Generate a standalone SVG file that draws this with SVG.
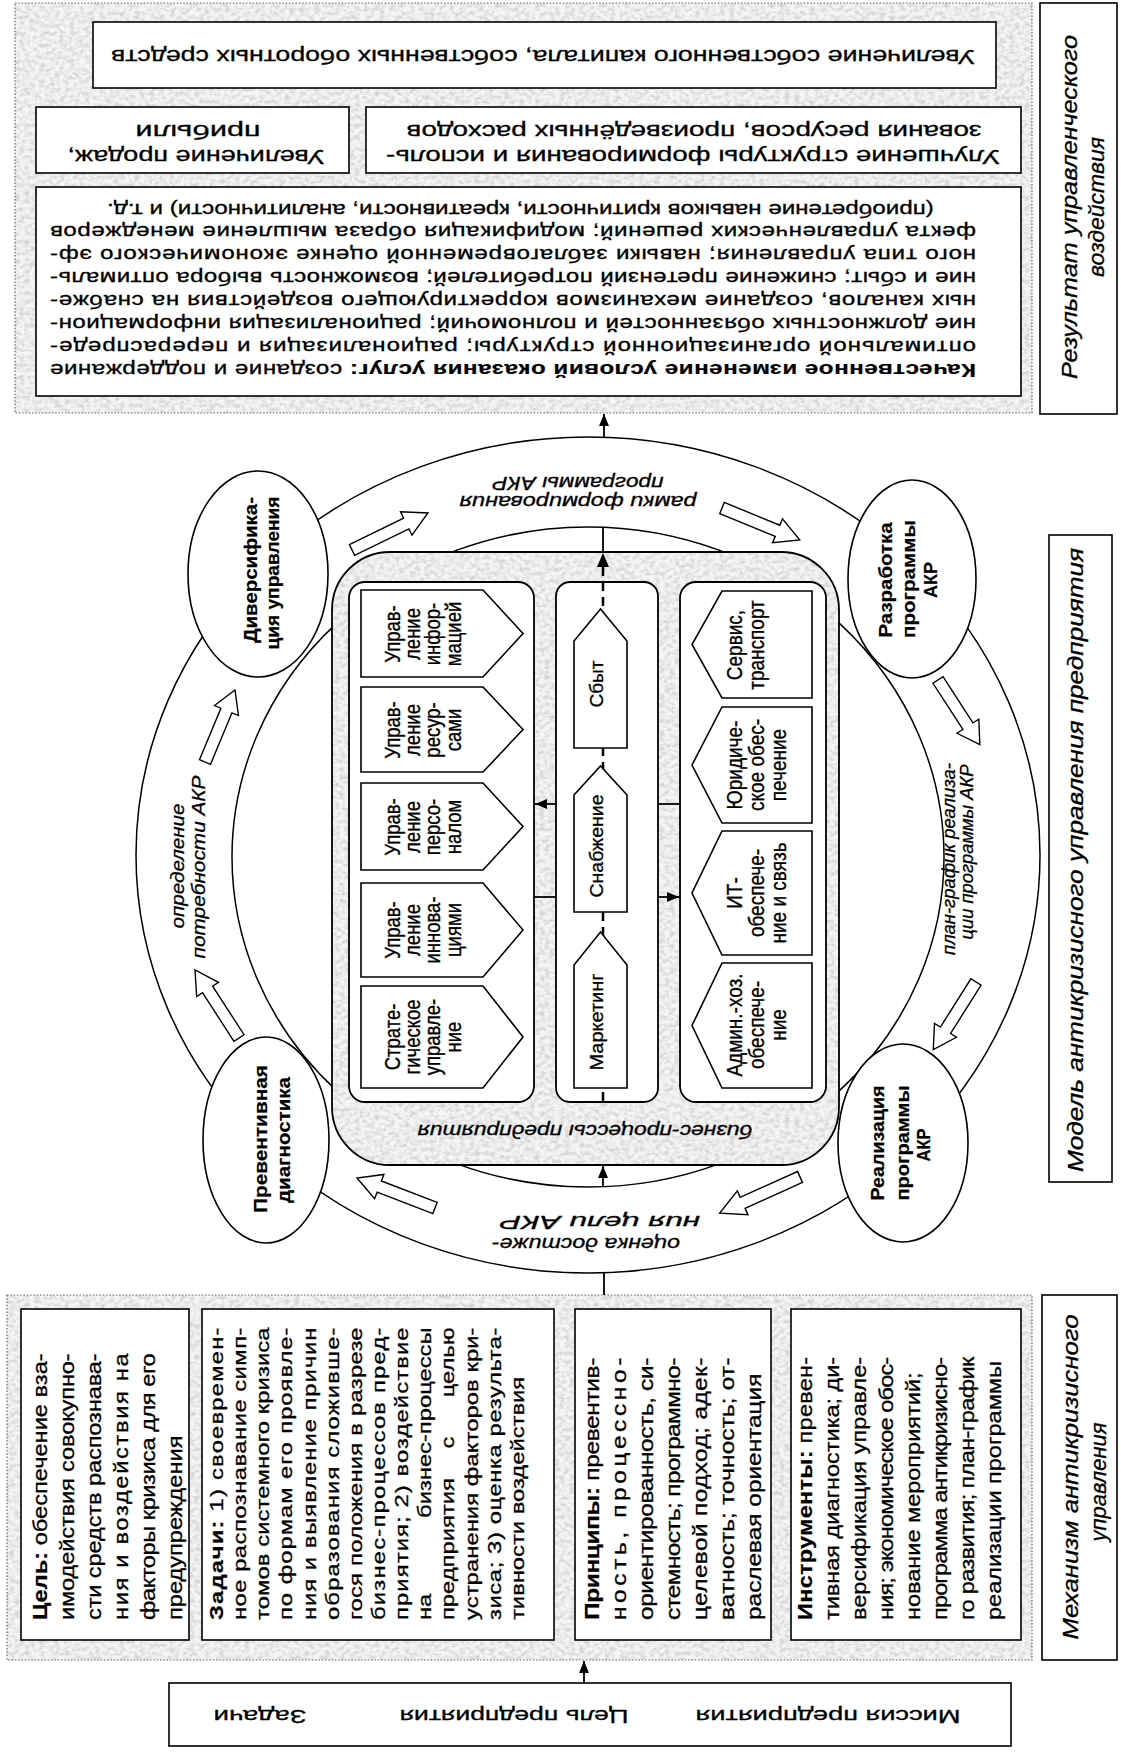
<svg xmlns="http://www.w3.org/2000/svg" width="1121" height="1753" viewBox="0 0 1121 1753">
<defs>
<style>
text{font-family:"Liberation Sans",Arial,sans-serif;fill:#000;stroke:#000;stroke-width:0.3}
.b{font-weight:bold;stroke-width:0.2}
.i{font-style:italic}
.box{fill:#fff;stroke:#000;stroke-width:1.6}
.ring{fill:none;stroke:#000;stroke-width:1.5}
.dotb{fill:none;stroke:#666;stroke-width:1.2;stroke-dasharray:1.5 1.8}
.ha{fill:#fff;stroke:#000;stroke-width:1.4}
.ln{stroke:#000;stroke-width:1.8;fill:none}
.col{fill:#fff;stroke:#000;stroke-width:1.8}
.node{fill:#fff;stroke:#000;stroke-width:1.6}
</style>
<filter id="tex" x="0" y="0" width="1" height="1">
<feTurbulence type="fractalNoise" baseFrequency="0.2 0.25" numOctaves="3" seed="5"/>
<feColorMatrix type="matrix" values="0 0 0 0 0.55  0 0 0 0 0.55  0 0 0 0 0.55  1.6 0 0 0 -0.62"/>
<feComposite operator="in" in2="SourceGraphic"/>
</filter>
<marker id="ah" viewBox="0 0 12 10" refX="12" refY="5" markerWidth="12" markerHeight="10" markerUnits="userSpaceOnUse" orient="auto"><path d="M0,0 L12,5 L0,10 z" fill="#000"/></marker>
<polygon id="harr" points="0,-6 60,-6 60,-13 84,0 60,13 60,6 0,6"/>
</defs>
<rect width="1121" height="1753" fill="#fff"/>

<!-- regions -->
<g id="result-region">
<rect x="15" y="3" width="1017" height="410" fill="#f4f4f4"/>
<rect x="15" y="3" width="1017" height="410" fill="#000" filter="url(#tex)"/>
<rect x="15" y="3" width="1017" height="410" class="dotb"/>
</g>
<g id="mechanism-region">
<rect x="7" y="1295" width="1025" height="365" fill="#f4f4f4"/>
<rect x="7" y="1295" width="1025" height="365" fill="#000" filter="url(#tex)"/>
<rect x="7" y="1295" width="1025" height="365" class="dotb"/>
</g>

<!-- top result boxes -->
<g id="res-capital">
<rect class="box" x="93" y="22" width="903" height="66"/>
<text x="543" y="50" font-size="20" text-anchor="middle" transform="rotate(180 543 50)" textLength="864" lengthAdjust="spacingAndGlyphs">Увеличение собственного капитала, собственных оборотных средств</text>
</g>
<g id="res-sales">
<rect class="box" x="36" y="107" width="313" height="66"/>
<text x="196" y="150" font-size="20" text-anchor="middle" transform="rotate(180 196 150)" textLength="257" lengthAdjust="spacingAndGlyphs">Увеличение продаж,</text>
<text x="198" y="125" font-size="20" text-anchor="middle" transform="rotate(180 198 125)" textLength="125" lengthAdjust="spacingAndGlyphs">прибыли</text>
</g>
<g id="res-structure">
<rect class="box" x="366" y="107" width="655" height="66"/>
<text x="693" y="150" font-size="20" text-anchor="middle" transform="rotate(180 693 150)" textLength="614" lengthAdjust="spacingAndGlyphs">Улучшение структуры формирования и исполь-</text>
<text x="694" y="125" font-size="20" text-anchor="middle" transform="rotate(180 694 125)" textLength="575" lengthAdjust="spacingAndGlyphs">зования ресурсов,  произведённых расходов</text>
</g>
<g id="res-quality">
<rect class="box" x="36" y="187" width="985" height="209"/>
<g transform="translate(976,363.5) rotate(180) scale(1.34,1)" font-size="18">
<text x="0" y="0" textLength="691" lengthAdjust="spacing"><tspan class="b">Качественное изменение условий оказания услуг:</tspan> создание и поддержание</text>
<text x="0" y="22.86" textLength="691" lengthAdjust="spacing">оптимальной организационной структуры;  рационализация и перераспреде-</text>
<text x="0" y="45.72" textLength="691" lengthAdjust="spacing">ние должностных обязанностей и полномочий;  рационализация информацион-</text>
<text x="0" y="68.58" textLength="691" lengthAdjust="spacing">ных каналов,  создание механизмов корректирующего воздействия на снабже-</text>
<text x="0" y="91.44" textLength="691" lengthAdjust="spacing">ние и сбыт; снижение претензий потребителей; возможность выбора оптималь-</text>
<text x="0" y="114.3" textLength="691" lengthAdjust="spacing">ного типа управления; навыки заблаговременной оценке экономического эф-</text>
<text x="0" y="137.16" textLength="691" lengthAdjust="spacing">фекта управленческих решений; модификация образа мышление менеджеров</text>
<text x="340" y="160" text-anchor="middle">(приобретение навыков критичности, креативности, аналитичности) и т.д.</text>
</g>
</g>
<g id="label-result">
<rect class="box" x="1040" y="3" width="77" height="411"/>
<text class="i" x="1077" y="207" font-size="22" text-anchor="middle" transform="rotate(-90 1077 207)" textLength="344" lengthAdjust="spacingAndGlyphs">Результат управленческого</text>
<text class="i" x="1104" y="207" font-size="22" text-anchor="middle" transform="rotate(-90 1104 207)" textLength="140" lengthAdjust="spacingAndGlyphs">воздействия</text>
</g>
<g id="label-model">
<rect class="box" x="1049" y="535" width="63" height="647"/>
<text class="i" x="1083" y="860" font-size="22" text-anchor="middle" transform="rotate(-90 1083 860)" textLength="624" lengthAdjust="spacingAndGlyphs">Модель антикризисного управления предприятия</text>
</g>
<g id="label-mechanism">
<rect class="box" x="1042" y="1295" width="75" height="365"/>
<text class="i" x="1078" y="1477" font-size="22" text-anchor="middle" transform="rotate(-90 1078 1477)" textLength="325" lengthAdjust="spacingAndGlyphs">Механизм антикризисного</text>
<text class="i" x="1106" y="1482" font-size="22" text-anchor="middle" transform="rotate(-90 1106 1482)" textLength="119" lengthAdjust="spacingAndGlyphs">управления</text>
</g>

<!-- ring -->
<g id="ring">
<ellipse class="ring" cx="588" cy="855" rx="452" ry="418"/>
<ellipse class="ring" cx="588" cy="857" rx="356" ry="330"/>
</g>

<!-- business processes -->
<g id="business-processes">
<rect x="332" y="552" width="507" height="613" rx="58" fill="#f4f4f4"/>
<rect x="332" y="552" width="507" height="613" rx="58" fill="#000" filter="url(#tex)"/>
<rect x="332" y="552" width="507" height="613" rx="58" fill="none" stroke="#000" stroke-width="1.8"/>
<text class="i" x="585" y="1124.5" font-size="18" text-anchor="middle" transform="rotate(180 585 1124.5)" textLength="335" lengthAdjust="spacingAndGlyphs">бизнес-процессы предприятия</text>
</g>

<g id="col-management">
<rect class="col" x="349" y="582" width="185" height="520" rx="16"/>
</g>
<g id="col-main">
<rect class="col" x="556" y="582" width="102" height="520" rx="14" stroke-width="3.2"/>
</g>
<g id="col-support">
<rect class="col" x="680" y="582" width="146" height="520" rx="16"/>
</g>

<g id="connectors">
<line x1="603" y1="567" x2="603" y2="1106" stroke="#000" stroke-width="2.5" stroke-dasharray="9 6"/>
<line class="ln" x1="603" y1="527" x2="603" y2="553"/>
<path d="M603,553 L597,567 L609,567 z" fill="#000"/>
<line class="ln" x1="603" y1="1187" x2="603" y2="1166" marker-end="url(#ah)"/>
<line class="ln" x1="604" y1="437" x2="604" y2="414" marker-end="url(#ah)"/>
<line class="ln" x1="604" y1="1273" x2="604" y2="1295"/>
<line class="ln" x1="584" y1="1683" x2="584" y2="1661" marker-end="url(#ah)"/>
<line class="ln" x1="556" y1="804" x2="535" y2="804" marker-end="url(#ah)"/>
<line class="ln" x1="534" y1="897" x2="556" y2="897"/>
<line class="ln" x1="658" y1="804" x2="680" y2="804"/>
<line class="ln" x1="658" y1="897" x2="679" y2="897" marker-end="url(#ah)"/>
<use href="#harr" class="ha" transform="translate(239,1038) rotate(-122.9) scale(0.964,1)"/>
<use href="#harr" class="ha" transform="translate(205,762) rotate(-67.4) scale(0.929,1)"/>
<use href="#harr" class="ha" transform="translate(352,550) rotate(-26) scale(1.006,1)"/>
<use href="#harr" class="ha" transform="translate(722,508) rotate(22.3) scale(1,1)"/>
<use href="#harr" class="ha" transform="translate(938,680) rotate(57.1) scale(0.917,1)"/>
<use href="#harr" class="ha" transform="translate(976,982) rotate(122.3) scale(0.952,1)"/>
<use href="#harr" class="ha" transform="translate(800,1177) rotate(155.8) scale(1.048,1)"/>
<use href="#harr" class="ha" transform="translate(435,1208) rotate(-159) scale(0.995,1)"/>
<text class="i" x="183.5" y="866" font-size="18" text-anchor="middle" transform="rotate(-90 183.5 866)" textLength="125" lengthAdjust="spacingAndGlyphs">определение</text>
<text class="i" x="204.5" y="867" font-size="18" text-anchor="middle" transform="rotate(-90 204.5 867)" textLength="183" lengthAdjust="spacingAndGlyphs">потребности АКР</text>
<text class="i" x="578" y="495.5" font-size="18" text-anchor="middle" transform="rotate(180 578 495.5)" textLength="237" lengthAdjust="spacingAndGlyphs">рамки формирования</text>
<text class="i" x="578" y="476.5" font-size="18" text-anchor="middle" transform="rotate(180 578 476.5)" textLength="171" lengthAdjust="spacingAndGlyphs">программы АКР</text>
<text class="i" x="954.5" y="859" font-size="18" text-anchor="middle" transform="rotate(-90 954.5 859)" textLength="192" lengthAdjust="spacingAndGlyphs">план-график реализа-</text>
<text class="i" x="972.5" y="852" font-size="18" text-anchor="middle" transform="rotate(-90 972.5 852)" textLength="175" lengthAdjust="spacingAndGlyphs">ции программы АКР</text>
<text class="i" x="586" y="1237.5" font-size="18" text-anchor="middle" transform="rotate(180 586 1237.5)" textLength="188" lengthAdjust="spacingAndGlyphs">оценка достиже-</text>
<text class="i" x="600" y="1215.5" font-size="18" text-anchor="middle" transform="rotate(180 600 1215.5)" textLength="200" lengthAdjust="spacingAndGlyphs">ния цели АКР</text>
</g>

<!-- left column pentagons -->
<g id="p-info"><polygon class="box" points="361,590 483,590 523,633.5 483,677 361,677"/>
<g transform="translate(399.7,634) scale(1.15,1) rotate(-90)" font-size="18.5" text-anchor="middle"><text x="0" y="0">Управ-</text><text x="0" y="17.74">ление</text><text x="0" y="35.48">инфор-</text><text x="0" y="53.22">мацией</text></g></g>
<g id="p-res"><polygon class="box" points="361,687 483,687 523,729.5 483,772 361,772"/>
<g transform="translate(399.7,730) scale(1.15,1) rotate(-90)" font-size="18.5" text-anchor="middle"><text x="0" y="0">Управ-</text><text x="0" y="17.74">ление</text><text x="0" y="35.48">ресур-</text><text x="0" y="53.22">сами</text></g></g>
<g id="p-pers"><polygon class="box" points="361,783 483,783 523,826.5 483,870 361,870"/>
<g transform="translate(399.7,827) scale(1.15,1) rotate(-90)" font-size="18.5" text-anchor="middle"><text x="0" y="0">Управ-</text><text x="0" y="17.74">ление</text><text x="0" y="35.48">персо-</text><text x="0" y="53.22">налом</text></g></g>
<g id="p-innov"><polygon class="box" points="361,883 483,883 523,930 483,977 361,977"/>
<g transform="translate(399.7,930) scale(1.15,1) rotate(-90)" font-size="18.5" text-anchor="middle"><text x="0" y="0">Управ-</text><text x="0" y="17.74">ление</text><text x="0" y="35.48">иннова-</text><text x="0" y="53.22">циями</text></g></g>
<g id="p-strat"><polygon class="box" points="361,986 483,986 523,1037 483,1088 361,1088"/>
<g transform="translate(399.7,1037) scale(1.15,1) rotate(-90)" font-size="18.5" text-anchor="middle"><text x="0" y="0">Страте-</text><text x="0" y="17.74">гическое</text><text x="0" y="35.48">управле-</text><text x="0" y="53.22">ние</text></g></g>

<!-- middle column -->
<g id="m-sbyt"><polygon class="box" points="574,748 574,641 600.5,609 627,641 627,748"/>
<text x="602.5" y="684" font-size="18" text-anchor="middle" transform="rotate(-90 602.5 684)" textLength="47" lengthAdjust="spacingAndGlyphs">Сбыт</text></g>
<g id="m-snab"><polygon class="box" points="574,912 574,795 600.5,766 627,795 627,912"/>
<text x="602.5" y="846" font-size="18" text-anchor="middle" transform="rotate(-90 602.5 846)" textLength="103" lengthAdjust="spacingAndGlyphs">Снабжение</text></g>
<g id="m-mark"><polygon class="box" points="574,1088 574,965 600.5,932 627,965 627,1088"/>
<text x="602.5" y="1022" font-size="18" text-anchor="middle" transform="rotate(-90 602.5 1022)" textLength="97" lengthAdjust="spacingAndGlyphs">Маркетинг</text></g>

<!-- right column -->
<g id="s-serv"><polygon class="box" points="812,591 722,591 692,644.5 722,698 812,698"/>
<g transform="translate(741.7,645) scale(1.12,1) rotate(-90)" font-size="19" text-anchor="middle"><text x="0" y="0">Сервис,</text><text x="0" y="19.64">транспорт</text></g></g>
<g id="s-law"><polygon class="box" points="812,707 722,707 692,765 722,823 812,823"/>
<g transform="translate(741.7,765) scale(1.12,1) rotate(-90)" font-size="19" text-anchor="middle"><text x="0" y="0">Юридиче-</text><text x="0" y="19.64">ское обес-</text><text x="0" y="39.28">печение</text></g></g>
<g id="s-it"><polygon class="box" points="812,831 722,831 692,893 722,955 812,955"/>
<g transform="translate(741.7,893) scale(1.12,1) rotate(-90)" font-size="19" text-anchor="middle"><text x="0" y="0">ИТ-</text><text x="0" y="19.64">обеспече-</text><text x="0" y="39.28">ние и связь</text></g></g>
<g id="s-adm"><polygon class="box" points="812,963 722,963 692,1025.5 722,1088 812,1088"/>
<g transform="translate(741.7,1025) scale(1.12,1) rotate(-90)" font-size="19" text-anchor="middle"><text x="0" y="0">Админ.-хоз.</text><text x="0" y="19.64">обеспече-</text><text x="0" y="39.28">ние</text></g></g>

<!-- ring nodes -->
<g id="n-diversification">
<ellipse class="node" cx="258" cy="574" rx="70" ry="103"/>
<text class="b" x="257" y="570" font-size="19" text-anchor="middle" transform="rotate(-90 257 570)" textLength="146" lengthAdjust="spacingAndGlyphs">Диверсифика-</text>
<text class="b" x="279" y="573" font-size="19" text-anchor="middle" transform="rotate(-90 279 573)" textLength="153" lengthAdjust="spacingAndGlyphs">ция управления</text>
</g>
<g id="n-development">
<ellipse class="node" cx="912" cy="579" rx="64" ry="99"/>
<text class="b" x="892" y="580" font-size="19" text-anchor="middle" transform="rotate(-90 892 580)" textLength="115" lengthAdjust="spacingAndGlyphs">Разработка</text>
<text class="b" x="915" y="579" font-size="19" text-anchor="middle" transform="rotate(-90 915 579)" textLength="118" lengthAdjust="spacingAndGlyphs">программы</text>
<text class="b" x="937" y="580" font-size="19" text-anchor="middle" transform="rotate(-90 937 580)" textLength="36" lengthAdjust="spacingAndGlyphs">АКР</text>
</g>
<g id="n-diagnostics">
<ellipse class="node" cx="266" cy="1140" rx="63" ry="103"/>
<text class="b" x="267" y="1139" font-size="19" text-anchor="middle" transform="rotate(-90 267 1139)" textLength="148" lengthAdjust="spacingAndGlyphs">Превентивная</text>
<text class="b" x="290" y="1140" font-size="19" text-anchor="middle" transform="rotate(-90 290 1140)" textLength="126" lengthAdjust="spacingAndGlyphs">диагностика</text>
</g>
<g id="n-implementation">
<ellipse class="node" cx="903" cy="1143" rx="65" ry="99"/>
<text class="b" x="884" y="1143" font-size="19" text-anchor="middle" transform="rotate(-90 884 1143)" textLength="115" lengthAdjust="spacingAndGlyphs">Реализация</text>
<text class="b" x="909" y="1143" font-size="19" text-anchor="middle" transform="rotate(-90 909 1143)" textLength="115" lengthAdjust="spacingAndGlyphs">программы</text>
<text class="b" x="930" y="1145" font-size="19" text-anchor="middle" transform="rotate(-90 930 1145)" textLength="33" lengthAdjust="spacingAndGlyphs">АКР</text>
</g>

<!-- mechanism boxes -->
<g id="m-goal">
<rect class="box" x="21" y="1309" width="168" height="331"/>
<g transform="translate(47,1620) rotate(-90) scale(1.18,1)" font-size="20">
<text x="0" y="0" textLength="226" lengthAdjust="spacing"><tspan class="b">Цель:</tspan> обеспечение вза-</text>
<text x="0" y="27" textLength="226" lengthAdjust="spacing">имодействия совокупно-</text>
<text x="0" y="54" textLength="226" lengthAdjust="spacing">сти средств распознава-</text>
<text x="0" y="81" textLength="226" lengthAdjust="spacing">ния и воздействия на</text>
<text x="0" y="108" textLength="226" lengthAdjust="spacing">факторы кризиса для его</text>
<text x="0" y="135">предупреждения</text>
</g>
</g>
<g id="m-tasks">
<rect class="box" x="202" y="1309" width="352" height="331"/>
<g transform="translate(223,1620) rotate(-90) scale(1.25,1)" font-size="19">
<text x="0" y="0" textLength="234" lengthAdjust="spacing"><tspan class="b">Задачи:</tspan> 1) своевремен-</text>
<text x="0" y="23.15" textLength="234" lengthAdjust="spacing">ное распознавание симп-</text>
<text x="0" y="46.3" textLength="234" lengthAdjust="spacing">томов системного кризиса</text>
<text x="0" y="69.45" textLength="234" lengthAdjust="spacing">по формам его проявле-</text>
<text x="0" y="92.6" textLength="234" lengthAdjust="spacing">ния и выявление причин</text>
<text x="0" y="115.75" textLength="234" lengthAdjust="spacing">образования сложивше-</text>
<text x="0" y="138.9" textLength="234" lengthAdjust="spacing">гося положения в разрезе</text>
<text x="0" y="162.05" textLength="234" lengthAdjust="spacing">бизнес-процессов пред-</text>
<text x="0" y="185.2" textLength="234" lengthAdjust="spacing">приятия; 2) воздействие</text>
<text x="0" y="208.35">на</text><text x="234" y="208.35" text-anchor="end">бизнес-процессы</text>
<text x="0" y="231.5">предприятия</text><text x="142" y="231.5" text-anchor="middle">с</text><text x="234" y="231.5" text-anchor="end">целью</text>
<text x="0" y="254.65" textLength="234" lengthAdjust="spacing">устранения факторов кри-</text>
<text x="0" y="277.8" textLength="234" lengthAdjust="spacing">зиса; 3) оценка результа-</text>
<text x="0" y="300.95">тивности воздействия</text>
</g>
</g>
<g id="m-principles">
<rect class="box" x="575" y="1309" width="196" height="331"/>
<g transform="translate(599,1620) rotate(-90) scale(1.22,1)" font-size="20">
<text x="0" y="0" textLength="215" lengthAdjust="spacing"><tspan class="b">Принципы:</tspan> превентив-</text>
<text x="0" y="27" textLength="215" lengthAdjust="spacing">ность, процессно-</text>
<text x="0" y="54" textLength="215" lengthAdjust="spacing">ориентированность, си-</text>
<text x="0" y="81" textLength="215" lengthAdjust="spacing">стемность; программно-</text>
<text x="0" y="108" textLength="215" lengthAdjust="spacing">целевой подход; адек-</text>
<text x="0" y="135" textLength="215" lengthAdjust="spacing">ватность; точность; от-</text>
<text x="0" y="162">раслевая ориентация</text>
</g>
</g>
<g id="m-tools">
<rect class="box" x="791" y="1309" width="230" height="331"/>
<g transform="translate(812,1620) rotate(-90) scale(1.175,1)" font-size="20">
<text x="0" y="0" textLength="224" lengthAdjust="spacing"><tspan class="b">Инструменты:</tspan> превен-</text>
<text x="0" y="27" textLength="224" lengthAdjust="spacing">тивная диагностика; ди-</text>
<text x="0" y="54" textLength="224" lengthAdjust="spacing">версификация управле-</text>
<text x="0" y="81" textLength="224" lengthAdjust="spacing">ния; экономическое обос-</text>
<text x="0" y="108">нование мероприятий;</text>
<text x="0" y="135" textLength="224" lengthAdjust="spacing">программа антикризисно-</text>
<text x="0" y="162" textLength="224" lengthAdjust="spacing">го развития; план-график</text>
<text x="0" y="189">реализации программы</text>
</g>
</g>

<g id="mission">
<rect class="box" x="169" y="1683" width="842" height="63"/>
<text x="828" y="1710" font-size="19" text-anchor="middle" transform="rotate(180 828 1710)" textLength="265" lengthAdjust="spacingAndGlyphs">Миссия предприятия</text>
<text x="514" y="1710" font-size="19" text-anchor="middle" transform="rotate(180 514 1710)" textLength="229" lengthAdjust="spacingAndGlyphs">Цель предприятия</text>
<text x="260" y="1710" font-size="19" text-anchor="middle" transform="rotate(180 260 1710)" textLength="93" lengthAdjust="spacingAndGlyphs">Задачи</text>
</g>
</svg>
